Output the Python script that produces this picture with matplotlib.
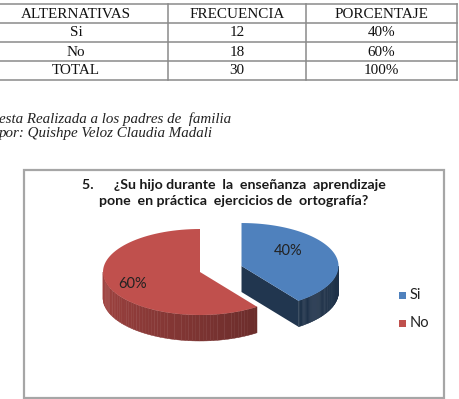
import numpy as np
import matplotlib.pyplot as plt
from matplotlib.patches import Polygon, Rectangle
from matplotlib.colors import to_rgb

# table data
headers = ["ALTERNATIVAS", "FRECUENCIA", "PORCENTAJE"]
alternativas = ["Si", "No", "TOTAL"]
frecuencia = [12, 18, 30]
porcentaje = ["40%", "60%", "100%"]

source_lines = ["esta Realizada a los padres de  familia",
                "por: Quishpe Veloz Claudia Madali"]

# chart data
title = "5.      \u00bfSu hijo durante  la  ense\u00f1anza  aprendizaje\npone  en pr\u00e1ctica  ejercicios de  ortograf\u00eda?"
pie_labels = ["Si", "No"]
pie_values = [12, 18]
top_colors = ["#4F81BD", "#C0504D"]
explode = [0.45, 0.0]

fig = plt.figure(figsize=(4.59, 3.99), dpi=100)
ax = fig.add_axes([0, 0, 1, 1])
ax.set_xlim(0, 459)
ax.set_ylim(399, 0)
ax.axis("off")

# ---- table ----
row_y = [4, 23, 42, 61, 80]
col_x = [-16, 168, 306, 457]
grid = "#8a8a8a"
for y in row_y:
    ax.plot([col_x[0], col_x[-1]], [y, y], color=grid, lw=1.1)
for x in col_x:
    ax.plot([x, x], [row_y[0], row_y[-1]], color=grid, lw=1.1)
rows = [headers] + [[a, str(f), p] for a, f, p in zip(alternativas, frecuencia, porcentaje)]
for r, row in enumerate(rows):
    yc = (row_y[r] + row_y[r + 1]) / 2 + 0.5
    for c, txt in enumerate(row):
        xc = (col_x[c] + col_x[c + 1]) / 2
        ax.text(xc, yc, txt, ha="center", va="center", fontsize=10.9,
                family="Liberation Serif", color="#111111")

for i, line in enumerate(source_lines):
    ax.text(-1, 119 + 14 * i, line, ha="left", va="center", fontsize=10.8,
            family="Liberation Serif", style="italic", color="#222222")

# ---- chart box ----
ax.add_patch(Rectangle((24, 170), 420, 228, fill=False, ec="#a6a6a6", lw=1.6))
ax.text(234, 193, title, ha="center", va="center", fontsize=10.2, fontweight="bold",
        family="Lato", color="#1a1a1a", linespacing=1.45)

# ---- 3D pie ----
cx, cy, rx, ry, depth = 200, 272, 97, 43, 26


def pt(x0, y0, th, r=1.0):
    t = np.radians(th)
    return x0 + r * rx * np.cos(t), y0 - r * ry * np.sin(t)


def arc(x0, y0, a0, a1, dy=0.0, n=80):
    th = np.radians(np.linspace(a0, a1, n))
    return np.column_stack([x0 + rx * np.cos(th), y0 - ry * np.sin(th) + dy])


def shade(c, f):
    return tuple(np.clip(np.array(to_rgb(c)) * f, 0, 1))


total = sum(pie_values)
cum = np.concatenate([[0], np.cumsum(pie_values)]) / total
label_frac = [0.5, 0.73]
label_dy = [-8, 2]

for i in range(len(pie_values)):
    a_start = 90 - cum[i] * 360
    a_end = 90 - cum[i + 1] * 360
    mid = (a_start + a_end) / 2
    ox, oy = pt(0, 0, mid, explode[i])
    x0, y0 = cx + ox, cy + oy
    col = top_colors[i]

    # cut faces
    for a, nrm in [(a_end, a_end - 90), (a_start, a_start + 90)]:
        if np.sin(np.radians(nrm)) < -1e-6:
            ex, ey = pt(x0, y0, a)
            quad = [(x0, y0), (ex, ey), (ex, ey + depth), (x0, y0 + depth)]
            ax.add_patch(Polygon(quad, closed=True, fc=shade(col, 0.42), ec="none"))

    # outer wall, shaded strip by strip
    lo, hi = max(a_end, -180), min(a_start, 0)
    if hi > lo:
        edges = np.linspace(lo, hi, 60)
        for k in range(len(edges) - 1):
            t0, t1 = edges[k], edges[k + 1]
            top = arc(x0, y0, t0, t1, 0, 4)
            bot = arc(x0, y0, t1, t0, depth, 4)
            s = (t0 + 180) / 180  # 0 at left, 1 at front-right
            f = 0.85 - 0.42 * s if i == 1 else 0.42 - 0.04 * s
            ax.add_patch(Polygon(np.vstack([top, bot]), closed=True,
                                 fc=shade(col, f), ec=shade(col, f), lw=0.3))

    # top face
    face = np.vstack([[x0, y0], arc(x0, y0, a_end, a_start)])
    ax.add_patch(Polygon(face, closed=True, fc=col, ec="none"))

    lx, ly = pt(x0, y0, mid, label_frac[i])
    pct = f"{pie_values[i] / total * 100:.0f}%"
    ax.text(lx, ly + label_dy[i], pct, ha="center", va="center", fontsize=10.5,
            family="Lato", color="#222222")

# legend
for j, lab in enumerate(pie_labels):
    ly = 295 + 28 * j
    ax.add_patch(Rectangle((399, ly - 3.5), 7, 7, fc=top_colors[j], ec="none"))
    ax.text(410, ly, lab, ha="left", va="center", fontsize=10.5, family="Lato",
            color="#222222")

fig.savefig("out.png", dpi=100)
